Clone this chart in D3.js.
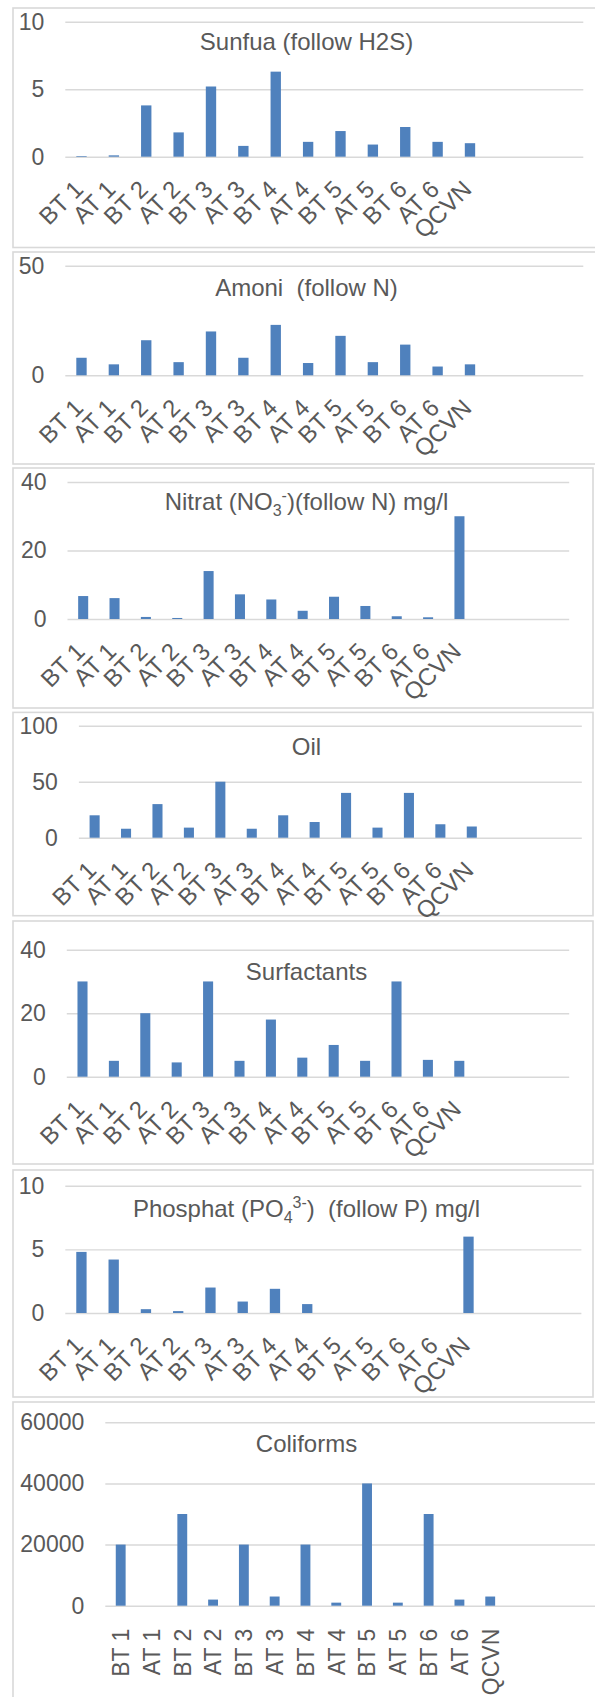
<!DOCTYPE html>
<html>
<head>
<meta charset="utf-8">
<script src="https://cdn.jsdelivr.net/npm/d3@7"></script>
<style>
  html, body { margin: 0; padding: 0; background: #fff; }
  svg { display: block; }
  text { font-family: "Liberation Sans", Arial, sans-serif; fill: #595959; }
</style>
</head>
<body>
<svg id="chart" width="595" height="1697"></svg>
<script>
// Sampling points: before (BT) / after (AT) treatment at six sites, plus the QCVN limit
const categories = ["BT 1", "AT 1", "BT 2", "AT 2", "BT 3", "AT 3", "BT 4", "AT 4", "BT 5", "AT 5", "BT 6", "AT 6", "QCVN"];
const blankSlots = 3; // empty category slots kept at the right end of each axis

// Measured concentrations per parameter
const sunfua      = [0.05, 0.1, 3.8, 1.8, 5.2, 0.8, 6.3, 1.1, 1.9, 0.9, 2.2, 1.1, 1.0];
const amoni       = [8, 5, 16, 6, 20, 8, 23, 5.6, 18, 6, 14, 4, 5];
const nitrat      = [6.7, 6.1, 0.6, 0.3, 14, 7.2, 5.7, 2.4, 6.5, 3.8, 0.8, 0.5, 30];
const oil         = [20, 8, 30, 9, 50, 8, 20, 14, 40, 9, 40, 12, 10];
const surfactants = [30, 5, 20, 4.5, 30, 5, 18, 6, 10, 5, 30, 5.3, 5];
const phosphat    = [4.8, 4.2, 0.3, 0.15, 2.0, 0.9, 1.9, 0.7, 0, 0, 0, 0, 6];
const coliforms   = [20000, 0, 30000, 2000, 20000, 3000, 20000, 1000, 40000, 1000, 30000, 2000, 3000];

// Value-axis tick labels
const sunfuaTicks      = [0, 5, 10];
const amoniTicks       = [0, 50];
const nitratTicks      = [0, 20, 40];
const oilTicks         = [0, 50, 100];
const surfactantsTicks = [0, 20, 40];
const phosphatTicks    = [0, 5, 10];
const coliformsTicks   = [0, 20000, 40000, 60000];

// Titles, split into runs so chemical formulas get sub/superscripts
const sunfuaTitle      = [["Sunfua (follow H2S)", ""]];
const amoniTitle       = [["Amoni  (follow N)", ""]];
const nitratTitle      = [["Nitrat (NO", ""], ["3", "sub"], ["-", "sup"], [")(follow N) mg/l", ""]];
const oilTitle         = [["Oil", ""]];
const surfactantsTitle = [["Surfactants", ""]];
const phosphatTitle    = [["Phosphat (PO", ""], ["4", "sub"], ["3-", "sup"], [")  (follow P) mg/l", ""]];
const coliformsTitle   = [["Coliforms", ""]];

// Layout of the stacked chart boxes
const panels = [
  { values: sunfua,      ticks: sunfuaTicks,      title: sunfuaTitle,      box: [8, 247.5, 13, 610],   plot: [65.3, 583.3, 21.7, 156.7],   titleY: 50,   rot: -45 },
  { values: amoni,       ticks: amoniTicks,       title: amoniTitle,       box: [252, 464, 13, 610],   plot: [65.3, 583.3, 265.7, 375.3],  titleY: 295.5, rot: -45 },
  { values: nitrat,      ticks: nitratTicks,      title: nitratTitle,      box: [468, 708, 13, 593],   plot: [67.5, 569.2, 482, 619],      titleY: 510, rot: -45 },
  { values: oil,         ticks: oilTicks,         title: oilTitle,         box: [712.4, 915.7, 13, 593], plot: [78.9, 581.8, 725.7, 837.7], titleY: 754.5, rot: -45 },
  { values: surfactants, ticks: surfactantsTicks, title: surfactantsTitle, box: [921, 1164, 13, 593],  plot: [66.8, 569.2, 949.7, 1076.7], titleY: 980,  rot: -45 },
  { values: phosphat,    ticks: phosphatTicks,    title: phosphatTitle,    box: [1170, 1397, 13, 593], plot: [65.3, 581.4, 1185.7, 1313],  titleY: 1216.5, rot: -45 },
  { values: coliforms,   ticks: coliformsTicks,   title: coliformsTitle,   box: [1402, 1720, 13, 610], plot: [105.3, 598, 1422.3, 1605.7], titleY: 1451.5, rot: -90 }
];

const svg = d3.select("#chart");
const barColor = "#4f81bd";
const gridColor = "#d9d9d9";
const titleCenter = 306.5;
const fontStack = "'Liberation Sans', Arial, sans-serif";

panels.forEach(p => {
  const [bTop, bBottom, bLeft, bRight] = p.box;
  const [pLeft, pRight, pTop, pZero] = p.plot;
  const g = svg.append("g");

  // chart box
  g.append("rect")
    .attr("x", bLeft).attr("y", bTop)
    .attr("width", bRight - bLeft).attr("height", bBottom - bTop)
    .attr("fill", "#fff").attr("stroke", gridColor).attr("stroke-width", 1.6);

  const x = d3.scaleBand()
    .domain(d3.range(categories.length + blankSlots))
    .range([pLeft, pRight])
    .padding(0);

  const y = d3.scaleLinear()
    .domain([0, d3.max(p.ticks)])
    .range([pZero, pTop]);

  // value axis: labels plus horizontal gridlines
  const yAxis = g.append("g")
    .attr("transform", `translate(${pLeft},0)`)
    .call(d3.axisLeft(y).tickValues(p.ticks).tickSize(-(pRight - pLeft)).tickPadding(21).tickFormat(d3.format("d")));
  yAxis.attr("font-size", 23).attr("font-family", fontStack);
  yAxis.select(".domain").remove();
  yAxis.selectAll("line").attr("stroke", gridColor).attr("stroke-width", 1.4);
  yAxis.selectAll("text").attr("fill", "#595959");

  // title
  const t = g.append("text")
    .attr("x", titleCenter).attr("y", p.titleY)
    .attr("text-anchor", "middle")
    .attr("font-size", 24)
    .style("white-space", "pre")
    .attr("xml:space", "preserve");
  let shift = 0;
  p.title.forEach(([str, kind]) => {
    const span = t.append("tspan").text(str);
    let target = 0;
    if (kind === "sub") { target = 6; span.attr("font-size", 16); }
    if (kind === "sup") { target = -9; span.attr("font-size", 16); }
    span.attr("dy", target - shift);
    shift = target;
  });

  // bars
  const bw = x.bandwidth() * 0.32;
  g.selectAll("rect.bar")
    .data(p.values)
    .join("rect")
    .attr("class", "bar")
    .attr("x", (d, i) => x(i) + (x.bandwidth() - bw) / 2)
    .attr("y", d => y(d))
    .attr("width", bw)
    .attr("height", d => y(0) - y(d))
    .attr("fill", barColor);

  // category axis labels
  const xAxis = g.append("g")
    .attr("transform", `translate(0,${pZero})`)
    .call(d3.axisBottom(x).tickValues(d3.range(categories.length)).tickSize(0).tickFormat(i => categories[i]));
  xAxis.attr("font-family", fontStack);
  xAxis.select(".domain").remove();
  const labels = xAxis.selectAll(".tick text")
    .attr("fill", "#595959")
    .attr("text-anchor", "end")
    .attr("x", 0).attr("y", 0).attr("dy", "0.36em");
  if (p.rot === -45) {
    xAxis.attr("font-size", 24);
    labels.attr("transform", "translate(-3,28) rotate(-45)");
  } else {
    xAxis.attr("font-size", 23);
    labels.attr("transform", "translate(0,23) rotate(-90)");
  }
});
</script>
</body>
</html>
